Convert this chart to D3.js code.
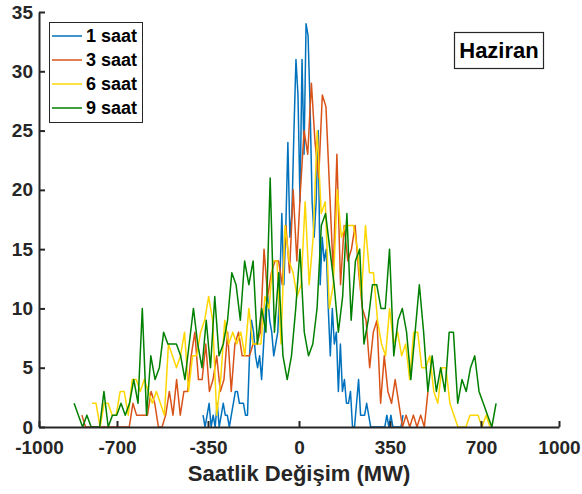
<!DOCTYPE html>
<html>
<head>
<meta charset="utf-8">
<script src="https://cdn.jsdelivr.net/npm/d3@7"></script>
<style>
  html, body { margin: 0; padding: 0; background: #fff; }
  svg { display: block; font-family: "Liberation Sans", Arial, sans-serif; }
</style>
</head>
<body>
<svg id="chart" width="582" height="494"></svg>
<script>
// ---------- data ----------
const seriesNames = ["1 saat", "3 saat", "6 saat", "9 saat"];
// first and last histogram bin centre (MW) of each series
const binFirst = [-369, -835, -796, -865];
const binLast  = [400, 496, 735, 758];
// counts per bin, evenly spaced between binFirst and binLast
const counts1 = [1,0,1,2,0,1,0,2,0,1,2,1,1,0,1,2,3,3,2,2,2,1,1,6,9,8,6,5,6,4,
  7,10,11,9,8,6,7,8,12,18,12,17,24,16,18,25,31,28,19,31,23,34,33,27,19,16,19,25,12,16,
  14,15,10,6,10,7,8,3,7,3,4,2,2,3,0,0,2,4,1,1,1,2,1,0,0,0,0,0,0,0,
  0,1,0,1,0,0,0,0,0,1];
const counts3 = [1,0,0,0,0,0,0,0,0,0,0,0,0,0,2,1,1,1,1,3,2,0,0,1,3,1,4,1,3,3,
  6,8,4,4,7,3,4,6,3,4,8,3,7,8,6,6,6,7,7,8,15,11,13,14,14,12,17,13,20,14,
  20,25,23,29,24,21,28,27,20,13,23,12,17,14,15,17,13,10,9,5,8,9,2,6,3,2,4,2,0,1,
  0,1,0,1,0,3];
const counts6 = [2,2,0,2,2,1,1,3,3,1,4,4,3,4,3,2,3,2,1,7,6,5,6,8,3,6,6,8,9,11,
  9,1,4,9,7,8,7,8,6,10,7,7,7,11,10,14,14,7,17,14,13,11,12,19,12,16,25,18,19,10,
  12,20,16,17,17,17,15,11,17,13,13,9,7,6,10,7,8,6,7,4,8,8,5,5,6,3,2,5,5,2,
  1,0,0,0,1,1,1,0,1,0];
const counts9 = [2,1,0,1,0,0,0,3,0,1,1,2,1,2,4,2,10,1,6,4,5,8,7,7,7,6,4,7,10,7,
  5,9,5,11,6,7,9,13,12,9,14,12,14,7,10,8,21,8,13,6,4,6,10,15,8,6,7,10,17,18,
  15,12,8,11,18,9,14,15,7,9,12,12,10,10,15,6,9,10,8,4,8,12,8,3,6,3,5,3,8,8,
  2,4,3,5,6,3,2,1,0,2];
const allCounts = [counts1, counts3, counts6, counts9];
const xTicks = [-1000, -700, -350, 0, 350, 700, 1000];
const yTicks = [0, 5, 10, 15, 20, 25, 30, 35];
const xLabel = "Saatlik Değişim (MW)";
const panelLabel = "Haziran";

// ---------- styles ----------
const colors = ["#0072BD", "#D95319", "#FFD700", "#008000"];
const axisColor = "#262626";

const svg = d3.select("#chart");
const x = d3.scaleLinear().domain([-1000, 1000]).range([39, 559]);
const y = d3.scaleLinear().domain([0, 35]).range([427, 12]);

// series
const line = d3.line().x(d => x(d[0])).y(d => y(d[1]));
allCounts.forEach((c, s) => {
  const n = c.length;
  const step = (binLast[s] - binFirst[s]) / (n - 1);
  const pts = c.map((v, i) => [binFirst[s] + i * step, v]);
  svg.append("path")
    .datum(pts)
    .attr("d", line)
    .attr("fill", "none")
    .attr("stroke", colors[s])
    .attr("stroke-width", 1.5)
    .attr("stroke-linejoin", "round");
});

// axes
const xAxis = d3.axisBottom(x).tickValues(xTicks).tickFormat(d => String(d))
  .tickSizeInner(-6).tickSizeOuter(0).tickPadding(14);
const gx = svg.append("g").attr("transform", `translate(0,${y(0)})`).call(xAxis);
const yAxis = d3.axisLeft(y).tickValues(yTicks).tickFormat(d => String(d))
  .tickSizeInner(-6).tickSizeOuter(0).tickPadding(6);
const gy = svg.append("g").attr("transform", `translate(${x(-1000)},0)`).call(yAxis);

[gx, gy].forEach(g => {
  g.select(".domain").attr("stroke", axisColor).attr("stroke-width", 2);
  g.selectAll(".tick line").attr("stroke", axisColor).attr("stroke-width", 2);
  g.selectAll(".tick text").attr("fill", axisColor)
    .style("font-size", "19px").style("font-weight", "bold")
    .style("font-family", "'Liberation Sans', Arial, sans-serif");
});

// x label
svg.append("text")
  .attr("x", (x(-1000) + x(1000)) / 2)
  .attr("y", 481)
  .attr("text-anchor", "middle")
  .attr("fill", axisColor)
  .style("font-size", "22px").style("font-weight", "bold")
  .text(xLabel);

// legend
const lg = svg.append("g");
lg.append("rect").attr("x", 49.5).attr("y", 22.5).attr("width", 93).attr("height", 100)
  .attr("fill", "#fff").attr("stroke", axisColor).attr("stroke-width", 1);
seriesNames.forEach((name, i) => {
  const ry = 36 + i * 24;
  lg.append("line").attr("x1", 52).attr("x2", 82).attr("y1", ry).attr("y2", ry)
    .attr("stroke", colors[i]).attr("stroke-width", 1.5);
  lg.append("text").attr("x", 86).attr("y", ry).attr("dy", "0.36em")
    .attr("fill", "#000")
    .style("font-size", "18px").style("font-weight", "bold")
    .text(name);
});

// panel label
svg.append("rect").attr("x", 454.5).attr("y", 32.5).attr("width", 89).attr("height", 36)
  .attr("fill", "#fff").attr("stroke", axisColor).attr("stroke-width", 1.2);
svg.append("text").attr("x", 499).attr("y", 50.5).attr("dy", "0.36em")
  .attr("text-anchor", "middle").attr("fill", "#000")
  .style("font-size", "22px").style("font-weight", "bold")
  .text(panelLabel);
</script>
</body>
</html>
